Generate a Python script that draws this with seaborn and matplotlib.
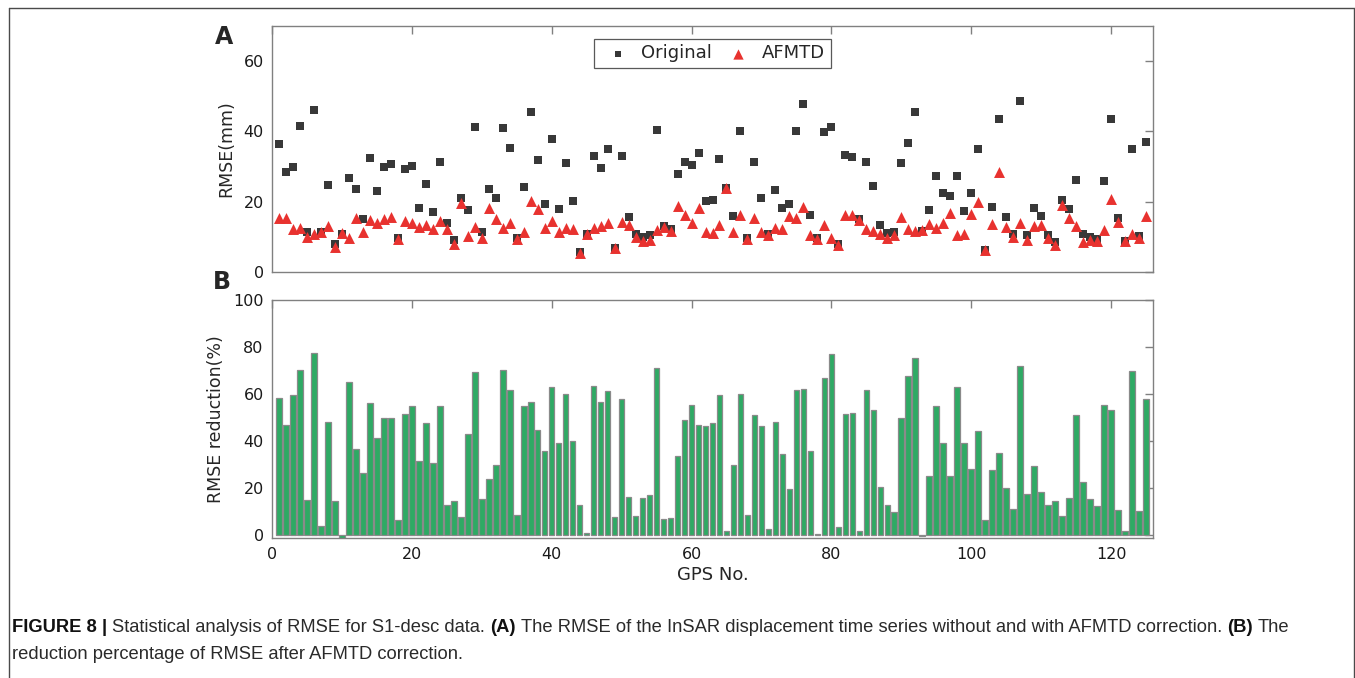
import numpy as np
import pandas as pd
import matplotlib
matplotlib.use("Agg")
import matplotlib.pyplot as plt
from matplotlib.lines import Line2D
import seaborn as sns

# RMSE values (mm), GPS 1..125
gps_no = list(range(1, 126))

rmse_original = [
    36.5, 28.6, 29.9, 41.5, 11.5, 46.0, 11.3, 24.8, 7.9, 10.8,
    26.9, 23.6, 15.2, 32.5, 23.2, 29.9, 30.7, 9.6, 29.2, 30.1,
    18.3, 25.1, 17.0, 31.4, 13.9, 9.2, 21.2, 17.6, 41.3, 11.3,
    23.6, 21.2, 41.0, 35.4, 9.7, 24.3, 45.5, 31.9, 19.4, 37.9,
    18.0, 31.1, 20.1, 5.8, 10.9, 33.0, 29.7, 34.9, 6.9, 33.0,
    15.8, 10.8, 9.9, 10.7, 40.3, 13.1, 12.2, 28.0, 31.3, 30.4,
    33.9, 20.2, 20.4, 32.2, 23.9, 16.0, 40.1, 9.8, 31.3, 21.0,
    10.8, 23.4, 18.2, 19.5, 40.0, 47.7, 16.4, 9.6, 39.7, 41.3,
    7.9, 33.2, 32.8, 15.0, 31.4, 24.5, 13.3, 11.1, 11.3, 30.9,
    36.8, 45.4, 11.6, 17.8, 27.2, 22.5, 21.6, 27.2, 17.4, 22.5,
    35.0, 6.2, 18.4, 43.4, 15.7, 10.8, 48.6, 10.7, 18.2, 15.9,
    10.6, 8.7, 20.4, 18.0, 26.3, 10.8, 10.0, 9.5, 26.0, 43.5,
    15.4, 8.9, 35.1, 10.2, 37.0,
]

rmse_afmtd = [
    15.5, 15.5, 12.4, 12.7, 10.0, 10.8, 11.3, 13.1, 7.2, 11.1,
    9.6, 15.3, 11.5, 14.8, 13.9, 15.2, 15.7, 9.4, 14.5, 13.9,
    12.8, 13.4, 12.2, 14.5, 12.4, 8.1, 19.8, 10.4, 13.0, 9.8,
    18.2, 15.2, 12.6, 13.9, 9.4, 11.4, 20.2, 18.1, 12.6, 14.5,
    11.3, 12.6, 12.4, 5.4, 10.8, 12.6, 13.1, 13.9, 6.9, 14.3,
    13.4, 10.1, 8.9, 9.1, 12.0, 13.0, 11.8, 18.8, 16.3, 13.9,
    18.2, 11.3, 11.1, 13.3, 23.9, 11.4, 16.4, 9.4, 15.4, 11.5,
    10.5, 12.5, 12.2, 15.9, 15.4, 18.4, 10.7, 9.4, 13.4, 9.7,
    7.7, 16.4, 16.2, 14.8, 12.4, 11.7, 10.8, 9.8, 10.5, 15.8,
    12.2, 11.7, 11.9, 13.6, 12.7, 14.1, 16.7, 10.5, 10.9, 16.6,
    19.9, 6.2, 13.6, 28.5, 12.9, 10.0, 13.9, 9.2, 13.1, 13.3,
    9.6, 7.7, 19.2, 15.4, 13.1, 8.7, 9.2, 8.8, 12.0, 20.7,
    14.3, 9.0, 11.0, 9.6, 16.0,
]

# RMSE reduction (%)
reduction = [
    58.5, 47.0, 59.4, 70.2, 15.1, 77.4, 3.7, 48.0, 14.5, -1.7,
    65.2, 36.4, 26.3, 56.0, 41.3, 50.0, 50.0, 6.4, 51.6, 54.8,
    31.7, 47.5, 30.5, 54.8, 12.6, 14.3, 7.7, 42.8, 69.2, 15.3,
    23.9, 30.0, 70.3, 61.8, 8.5, 55.0, 56.4, 44.5, 35.9, 63.1,
    39.2, 60.2, 40.2, 12.6, 0.9, 63.4, 56.8, 61.2, 7.7, 58.0,
    16.3, 8.2, 15.8, 17.2, 71.0, 6.7, 7.1, 33.7, 49.0, 55.4,
    46.8, 46.3, 47.6, 59.4, 1.7, 29.8, 60.1, 8.5, 51.2, 46.2,
    2.4, 47.9, 34.5, 19.6, 61.8, 62.2, 35.7, 0.6, 66.9, 76.9,
    3.3, 51.3, 51.9, 1.8, 61.8, 53.1, 20.6, 12.8, 9.7, 49.7,
    67.8, 75.3, -0.6, 25.1, 54.8, 39.2, 24.9, 62.8, 39.2, 28.0,
    44.3, 6.4, 27.7, 34.8, 20.0, 10.9, 71.9, 17.3, 29.3, 18.2,
    12.9, 14.3, 8.1, 15.9, 51.0, 22.5, 15.5, 12.5, 55.3, 53.0,
    10.7, 1.7, 69.9, 10.4, 58.0,
]

x_ticks = [0, 20, 40, 60, 80, 100, 120]

sns.set_theme(style="white")
plt.rcParams["font.family"] = ["DejaVu Sans"]

axis_gray = "#808080"
sq_color = "#383838"
tri_color = "#e8322f"
bar_color = "#2eaa64"

fig = plt.figure(figsize=(13.55, 6.78), dpi=100)
W, H = 1355, 678
axA = fig.add_axes([272 / W, 1 - 272.3 / H, 881 / W, 246.6 / H])
axB = fig.add_axes([272 / W, 1 - 538.3 / H, 881 / W, 238.3 / H])

# panel A
sns.scatterplot(x=gps_no, y=rmse_original, marker="s", s=34, color=sq_color,
                linewidth=0, label="Original", ax=axA, zorder=3)
sns.scatterplot(x=gps_no, y=rmse_afmtd, marker="^", s=62, color=tri_color,
                linewidth=0, label="AFMTD", ax=axA, zorder=4)
axA.set_xlim(0, 126)
axA.set_ylim(0, 70)
axA.set_yticks([0, 20, 40, 60])
axA.set_xticks(x_ticks)
axA.set_xticklabels([])
axA.set_ylabel("RMSE(mm)", fontsize=12.5, labelpad=6)
leg = axA.legend(loc="upper center", bbox_to_anchor=(0.5, 0.946), ncol=2,
                 fontsize=13, frameon=True, fancybox=False, edgecolor="#303030",
                 borderpad=0.3, handlelength=2.0, handletextpad=0.3,
                 columnspacing=0.45, borderaxespad=0)
leg.get_frame().set_linewidth(0.9)
leg.legend_handles[0].set_sizes([14])
leg.legend_handles[1].set_sizes([55])

# panel B
sns.barplot(x=gps_no, y=reduction, native_scale=True, color=bar_color,
            saturation=1, edgecolor="#8a8a8a", linewidth=0.9, width=0.8,
            errorbar=None, ax=axB)
axB.set_xlim(0, 126)
axB.set_ylim(-1.4, 100)
axB.set_yticks([0, 20, 40, 60, 80, 100])
axB.set_xticks(x_ticks)
axB.set_xticklabels([str(t) for t in x_ticks])
axB.set_xlabel("GPS No.", fontsize=13, labelpad=3)
axB.set_ylabel("RMSE reduction(%)", fontsize=12.5, labelpad=6)

for ax in (axA, axB):
    for sp in ax.spines.values():
        sp.set_color(axis_gray)
        sp.set_linewidth(1.0)
        sp.set_visible(True)
    ax.tick_params(direction="in", top=True, right=True, length=6,
                   width=1.0, color=axis_gray, labelsize=11.5, pad=6,
                   labelcolor="#1a1a1a")
    ax.grid(False)

fig.text(224 / W, 1 - 37 / H, "A", fontsize=17, fontweight="bold",
         ha="center", va="center")
fig.text(222 / W, 1 - 282 / H, "B", fontsize=17, fontweight="bold",
         ha="center", va="center")

# frame around the figure
for xs, ys in [((9 / W, 1354 / W), (1 - 8 / H, 1 - 8 / H)),
               ((9 / W, 9 / W), (1 - 8 / H, 0)),
               ((1354 / W, 1354 / W), (1 - 8 / H, 0))]:
    fig.add_artist(Line2D(xs, ys, transform=fig.transFigure,
                          color="#4a4a4a", linewidth=1.0))

# caption with bold runs
renderer = fig.canvas.get_renderer()
cap_font = "Liberation Sans"
cap_size = 13.2


def draw_runs(x_px, y_px, runs):
    sp = fig.text(0, 0, "a a", fontsize=cap_size, family=cap_font)
    nn = fig.text(0, 0, "aa", fontsize=cap_size, family=cap_font)
    space = (sp.get_window_extent(renderer).width
             - nn.get_window_extent(renderer).width)
    sp.remove()
    nn.remove()
    x = x_px
    for txt, bold in runs:
        t = fig.text(x / W, 1 - y_px / H, txt, fontsize=cap_size,
                     family=cap_font, fontweight="bold" if bold else "normal",
                     color="#111111" if bold else "#2a2a2a", va="baseline")
        x += t.get_window_extent(renderer).width + space


draw_runs(12, 632, [
    ("FIGURE 8 |", True),
    ("Statistical analysis of RMSE for S1-desc data.", False),
    ("(A)", True),
    ("The RMSE of the InSAR displacement time series without and with AFMTD correction.", False),
    ("(B)", True),
    ("The", False),
])
draw_runs(12, 659, [("reduction percentage of RMSE after AFMTD correction.", False)])

fig.savefig("out.png", dpi=100)
